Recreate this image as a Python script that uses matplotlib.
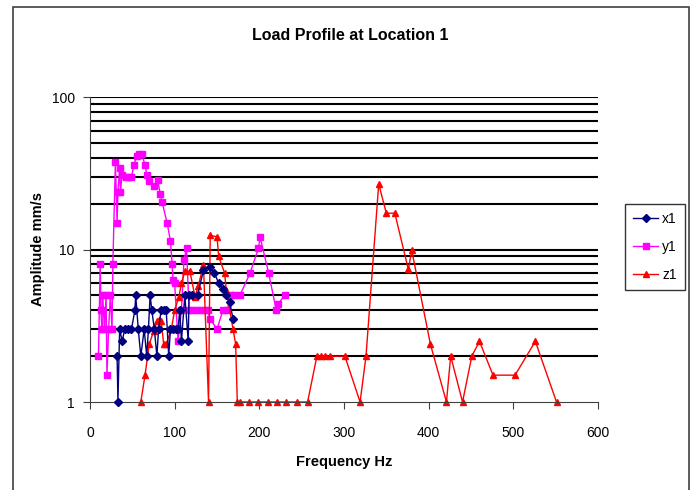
import matplotlib.pyplot as plt
from matplotlib.patches import Rectangle

plt.rcParams['font.family'] = ['Liberation Sans', 'DejaVu Sans']

# x1 series
x1_hz = [32, 33, 35, 38, 41, 45, 49, 53, 54, 57, 60, 64, 67, 69, 71, 73, 76, 79, 81, 84, 87, 90, 93,
         95, 98, 101, 104, 106, 108, 112, 116, 117, 121, 127, 134, 142, 147, 152, 157, 161, 165, 169]
x1_amp = [2.0, 1.0, 3.0, 2.5, 3.0, 3.0, 3.0, 4.0, 5.0, 3.0, 2.0, 3.0, 2.0, 3.0, 5.0, 4.0, 3.0, 2.0, 3.0,
          4.0, 4.0, 4.0, 2.0, 3.0, 3.0, 3.0, 3.0, 4.0, 2.5, 5.0, 2.5, 5.0, 5.0, 5.0, 7.3, 7.7, 7.0, 6.0,
          5.5, 5.0, 4.5, 3.5]

# y1 series
y1_hz = [10, 12, 13, 14, 15, 17, 19, 20, 22, 24, 26, 27, 30, 32, 33, 35, 36, 38, 42, 45, 49, 52, 55,
         58, 61, 65, 67, 70, 75, 80, 83, 85, 91, 95, 97, 98, 100, 104, 108, 111, 114, 117, 121, 126,
         131, 136, 139, 142, 150, 157, 162, 166, 170, 177, 189, 199, 201, 211, 220, 222, 230]
y1_amp = [2.0, 8.0, 4.0, 3.0, 5.0, 3.0, 5.0, 1.5, 3.0, 5.0, 3.0, 8.0, 37.6, 15.0, 24.0, 34.0, 24.0,
          31.0, 30.0, 30.0, 30.0, 36.0, 41.0, 42.0, 42.0, 36.0, 31.0, 28.0, 26.0, 28.6, 23.0, 20.6,
          15.0, 11.4, 8.0, 6.3, 6.0, 2.5, 4.0, 8.5, 10.2, 4.0, 4.0, 4.0, 4.0, 4.0, 4.0, 3.5, 3.0, 4.0,
          4.0, 5.0, 5.0, 5.0, 7.0, 10.2, 12.0, 7.0, 4.0, 4.4, 5.0]

# z1 series
z1_hz = [60, 65, 70, 75, 79, 82, 84, 87, 90, 96, 100, 105, 108, 112, 118, 124, 128, 134, 140, 142,
         150, 152, 159, 161, 169, 172, 174, 177, 188, 199, 210, 221, 232, 245, 257, 268, 273, 278, 283,
         301, 319, 326, 341, 350, 360, 376, 380, 402, 421, 426, 440, 451, 460, 476, 502, 526, 551]
z1_amp = [1.0, 1.5, 2.4, 2.9, 3.4, 3.45, 3.4, 2.4, 2.4, 3.0, 4.0, 4.9, 6.0, 7.2, 7.2, 4.9, 5.8, 7.9,
          1.0, 12.4, 12.1, 9.0, 7.0, 5.4, 3.0, 2.4, 1.0, 1.0, 1.0, 1.0, 1.0, 1.0, 1.0, 1.0, 1.0, 2.0,
          2.0, 2.0, 2.0, 2.0, 1.0, 2.0, 26.9, 17.3, 17.3, 7.4, 9.9, 2.4, 1.0, 2.0, 1.0, 2.0, 2.5, 1.5,
          1.5, 2.5, 1.0]

fig = plt.figure(figsize=(6.93, 4.90), dpi=100)
fig.patches.append(Rectangle((13 / 693, -0.1), 676 / 693, 1.0 - 7 / 490 + 0.1, transform=fig.transFigure,
                             fill=False, edgecolor='#404040', linewidth=1.2))

ax = fig.add_axes([90 / 693, 1 - 402 / 490, 508 / 693, 305 / 490])
ax.set_yscale('log')
ax.set_xlim(0, 600)
ax.set_ylim(1, 100)

for v in [2, 3, 4, 5, 6, 7, 8, 9, 10, 20, 30, 40, 50, 60, 70, 80, 90, 100]:
    ax.axhline(v, color='black', linewidth=1.5, zorder=0)

ax.plot(x1_hz, x1_amp, color='#000080', marker='D', markersize=4, linewidth=1, label='x1',
        zorder=3, clip_on=False)
ax.plot(y1_hz, y1_amp, color='#FF00FF', marker='s', markersize=5, linewidth=1, label='y1',
        zorder=2, clip_on=False)
ax.plot(z1_hz, z1_amp, color='#FF0000', marker='^', markersize=5, linewidth=1, label='z1',
        zorder=2, clip_on=False)

for s in ['top', 'right']:
    ax.spines[s].set_visible(False)
ax.spines['left'].set_color('#404040')
ax.spines['bottom'].set_color('#404040')

ax.set_xticks([0, 100, 200, 300, 400, 500, 600])
ax.set_yticks([1, 10, 100])
ax.set_yticklabels(['1', '10', '100'])
ax.yaxis.set_minor_locator(plt.NullLocator())
ax.tick_params(labelsize=10, length=5, color='#404040')
ax.tick_params(axis='x', pad=12)
ax.tick_params(axis='y', pad=6)

ax.set_xlabel('Frequency Hz', fontsize=10.5, fontweight='bold', labelpad=11)
ax.set_ylabel('Amplitude mm/s', fontsize=10.5, fontweight='bold', labelpad=5)
fig.text(0.505, 1 - 35 / 490, 'Load Profile at Location 1', fontsize=11.5, fontweight='bold',
         ha='center', va='center')

leg = fig.legend(loc='center', bbox_to_anchor=(655 / 693, 1 - 247 / 490), fontsize=10,
                 frameon=True, fancybox=False, edgecolor='black', handlelength=1.8,
                 labelspacing=1.0, borderpad=0.6, handletextpad=0.3, borderaxespad=0.2)
leg.get_frame().set_linewidth(1.0)

fig.savefig('out.png', dpi=100)
